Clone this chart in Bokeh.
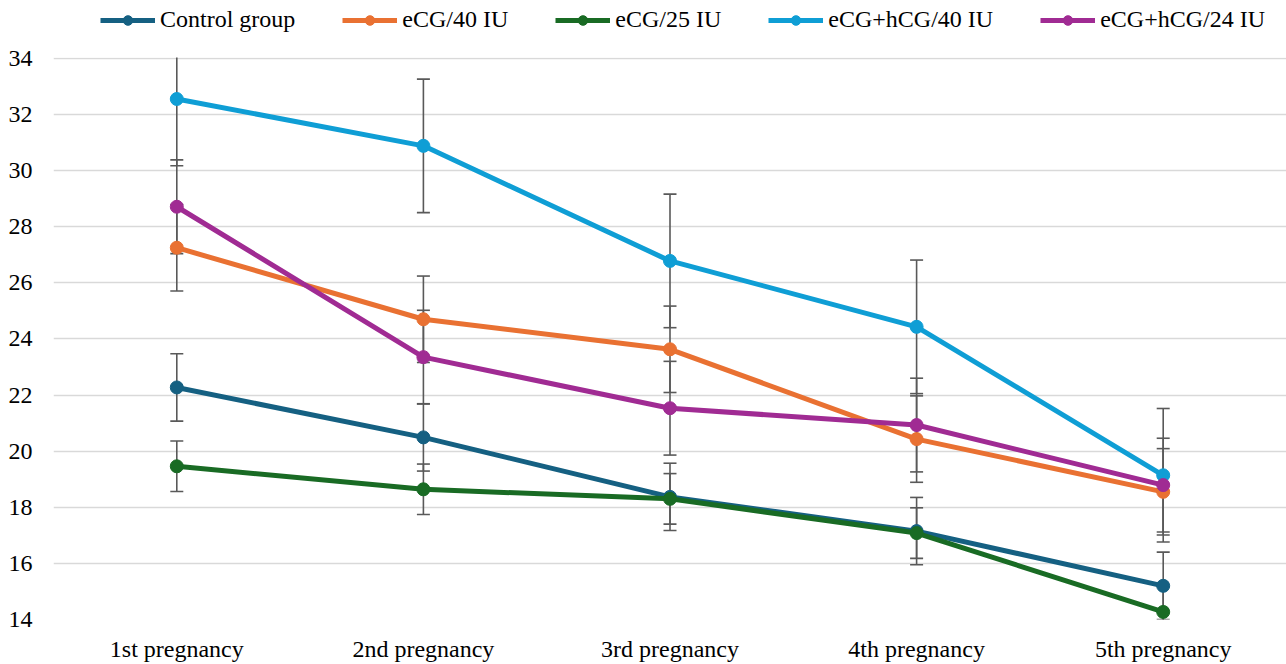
from bokeh.plotting import figure
from bokeh.models import (FactorRange, Range1d, FixedTicker, ColumnDataSource, Whisker,
                          TeeHead, Legend, LegendItem, BoxAnnotation)
from bokeh.embed import file_html
from bokeh.resources import INLINE

cats = ["1st pregnancy", "2nd pregnancy", "3rd pregnancy", "4th pregnancy", "5th pregnancy"]
y_ticks = [14, 16, 18, 20, 22, 24, 26, 28, 30, 32, 34]

names = ["Control group", "eCG/40 IU", "eCG/25 IU", "eCG+hCG/40 IU", "eCG+hCG/24 IU"]
control = [22.27, 20.49, 18.37, 17.15, 15.20]
ecg40 = [27.25, 24.70, 23.63, 20.43, 18.55]
ecg25 = [19.46, 18.64, 18.30, 17.08, 14.27]
ecg_hcg40 = [32.55, 30.88, 26.78, 24.43, 19.14]
ecg_hcg24 = [28.71, 23.35, 21.53, 20.93, 18.79]

err_control = [1.20, 1.20, 1.20, 1.20, 1.20]
err_ecg40 = [1.54, 1.54, 1.54, 1.54, 1.54]
err_ecg25 = [0.90, 0.90, 0.90, 0.90, 0.90]
err_ecg_hcg40 = [2.38, 2.38, 2.38, 2.38, 2.38]
err_ecg_hcg24 = [1.67, 1.67, 1.67, 1.67, 1.67]

colors = ["#156082", "#E97132", "#196B24", "#0F9ED5", "#A02B93"]
series = [control, ecg40, ecg25, ecg_hcg40, ecg_hcg24]
errors = [err_control, err_ecg40, err_ecg25, err_ecg_hcg40, err_ecg_hcg24]

FONT = "Liberation Serif"
FSIZE = "24px"

Y_MIN, Y_MAX = 14, 34
# frame spans the full top; value axis 14..34 occupies 563 px below a 58 px legend band
y_top = Y_MAX + 58 * (Y_MAX - Y_MIN) / 563

p = figure(x_range=FactorRange(*cats), y_range=Range1d(Y_MIN, y_top),
           width=1286, height=664, output_backend="svg", toolbar_location=None,
           min_border_left=53, min_border_right=0, min_border_top=0, min_border_bottom=43)
p.outline_line_color = None
p.background_fill_color = "white"
p.border_fill_color = "white"

p.xgrid.grid_line_color = None
p.ygrid.grid_line_color = "#D9D9D9"
p.ygrid.grid_line_width = 1.3
p.yaxis.ticker = FixedTicker(ticks=y_ticks)

for ax in (p.xaxis, p.yaxis):
    ax.axis_line_color = None
    ax.major_tick_line_color = None
    ax.minor_tick_line_color = None
    ax.major_label_text_font = FONT
    ax.major_label_text_font_size = FSIZE
    ax.major_label_text_color = "#000000"
p.yaxis.major_label_standoff = 15
p.xaxis.major_label_standoff = 10

sources = []
for vals, errs in zip(series, errors):
    src = ColumnDataSource(dict(
        x=cats, y=vals,
        upper=[v + e for v, e in zip(vals, errs)],
        lower=[v - e for v, e in zip(vals, errs)]))
    sources.append(src)

for src in sources:
    w = Whisker(base="x", upper="upper", lower="lower", source=src, dimension="height",
                line_color="#595959", line_width=1.6,
                upper_head=TeeHead(size=13, line_color="#595959", line_width=1.6),
                lower_head=TeeHead(size=13, line_color="#595959", line_width=1.6))
    p.add_layout(w)

# plot-area clip above the top value (34), as in the original chart
p.add_layout(BoxAnnotation(bottom=Y_MAX + 0.03, fill_color="white", fill_alpha=1.0,
                           line_alpha=0))

items = []
for name, col, src in zip(names, colors, sources):
    l = p.line("x", "y", source=src, line_color=col, line_width=5)
    s = p.scatter("x", "y", source=src, size=13, fill_color=col, line_color=col)
    items.append(LegendItem(label=name, renderers=[l, s]))

legend = Legend(items=items, orientation="horizontal", location=(47, 586),
                label_text_font=FONT, label_text_font_size=FSIZE, label_text_color="#000000",
                glyph_width=55, glyph_height=24, label_standoff=5, spacing=47,
                padding=0, margin=0, border_line_color=None, background_fill_alpha=0)
p.add_layout(legend, "center")

open("out.html", "w").write(file_html(p, INLINE))
